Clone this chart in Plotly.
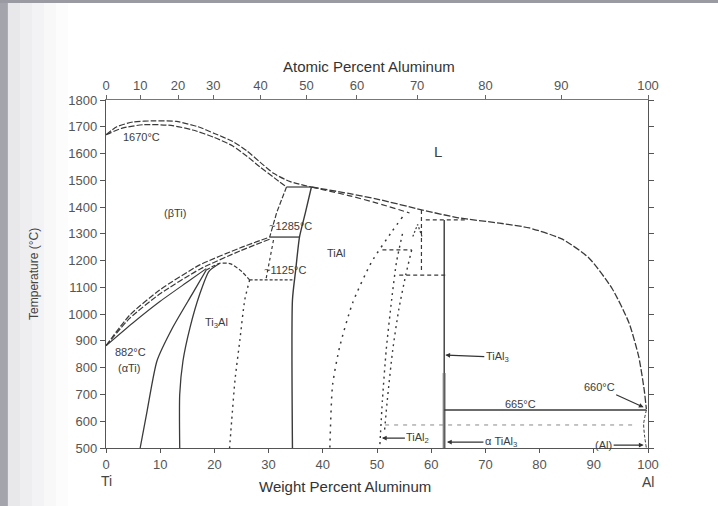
import plotly.graph_objects as go

# ---------------- data (weight % Al, temperature °C) ----------------
liq_left_wt = [0, 2, 5, 9, 13, 17, 20, 23.4, 26, 28.4, 31, 34, 37.9]
liq_left_T = [1670, 1700, 1718, 1722, 1720, 1700, 1675, 1645, 1610, 1568, 1525, 1495, 1475]
sol_beta_wt = [0, 3, 7, 12, 16, 20, 23.4, 26, 28.4, 31, 33.3]
sol_beta_T = [1670, 1695, 1708, 1705, 1688, 1660, 1628, 1590, 1550, 1510, 1475]
perit_wt = [33.3, 37.9]
perit_T = [1475, 1475]
liq_right_wt = [37.9, 45, 50, 58.4, 65, 72.6, 78.1, 84.2, 89.1, 93.4, 96.5, 98.3, 99.3, 99.7]
liq_right_T = [1475, 1450, 1430, 1389, 1360, 1340, 1322, 1280, 1210, 1095, 967, 840, 717, 645]
sol_gamma_wt = [37.9, 45, 50, 56]
sol_gamma_T = [1475, 1442, 1415, 1378]
beta_a_wt = [33.3, 31.5, 30.2]
beta_a_T = [1475, 1380, 1288]
beta_b_wt = [37.9, 36.8, 35.7, 35.0, 34.4, 34.4]
beta_b_T = [1475, 1380, 1288, 1165, 1053, 500]
line1285_wt = [30.2, 35.7]
line1285_T = [1288, 1288]
transus1_wt = [0, 4.4, 9.9, 17.3, 24.7, 30.2]
transus1_T = [882, 997, 1090, 1184, 1247, 1288]
transus2_wt = [0, 4.4, 9.9, 17.3, 24.7, 30.2]
transus2_T = [882, 985, 1075, 1168, 1236, 1280]
transus3_wt = [0, 5, 10, 15, 18.5]
transus3_T = [882, 968, 1048, 1120, 1170]
alpha_wt = [6.3, 7.6, 9.4, 12.3, 15.9, 18.5]
alpha_T = [500, 640, 825, 950, 1075, 1165]
alpha2_wt = [13.6, 13.6, 14.2, 15.5, 17.3, 19.0, 21.0]
alpha2_T = [500, 700, 825, 950, 1075, 1160, 1190]
dome_wt = [18.5, 21.0, 23.0, 25.0, 26.5]
dome_T = [1165, 1190, 1188, 1160, 1128]
a2g_wt = [26.5, 25.6, 24.7, 23.8, 23.2, 22.8]
a2g_T = [1128, 1053, 903, 754, 605, 500]
line1125_wt = [26.5, 34.4]
line1125_T = [1128, 1128]
ag_wt = [30.9, 30.2, 29.5]
ag_T = [1277, 1202, 1128]
g_left_wt = [54.7, 52.7, 49.0, 45.5, 43.1, 41.8, 41.3]
g_left_T = [1363, 1307, 1195, 1042, 877, 735, 500]
g_right_wt = [54.7, 53.6, 52.7, 51.7, 51.0, 50.5]
g_right_T = [1300, 1195, 1053, 866, 679, 500]
tial2_wt = [56.4, 55.3, 54.0, 52.9, 51.9, 51.4]
tial2_T = [1240, 1146, 1015, 866, 679, 567]
h1240_wt = [51.0, 56.4]
h1240_T = [1240, 1240]
v582_wt = [58.2, 58.2]
v582_T = [1389, 1165]
h1146_wt = [54.1, 62.6]
h1146_T = [1146, 1146]
h1352_wt = [59.0, 66.5]
h1352_T = [1352, 1352]
mark_wt = [56.6, 57.5, 58.3]
mark_T = [1290, 1335, 1290]
tial3_wt = [62.4, 62.4]
tial3_T = [1352, 500]
tial3_thick_T = [780, 500]
l665_wt = [62.4, 99.7]
l665_T = [642, 642]
l585_wt = [51.5, 97.5]
l585_T = [586, 586]
al_solvus_wt = [99.7, 99.2, 99.4, 99.7]
al_solvus_T = [642, 590, 540, 500]

x_ticks = [0, 10, 20, 30, 40, 50, 60, 70, 80, 90, 100]
y_ticks = [500, 600, 700, 800, 900, 1000, 1100, 1200, 1300, 1400, 1500, 1600, 1700, 1800]
top_tick_pos = [0, 6.3, 13.3, 19.8, 28.5, 37.0, 46.3, 57.4, 70.0, 84.0, 100]
top_tick_text = ["0", "10", "20", "30", "40", "50", "60", "70", "80", "90", "100"]

INK = "#3a3a3a"
FONT = "Liberation Sans, Arial, sans-serif"

fig = go.Figure()


def add(xs, ys, dash="solid", width=1.2, color=INK):
    fig.add_trace(go.Scatter(x=xs, y=ys, mode="lines", hoverinfo="skip",
                             line=dict(color=color, width=width, dash=dash,
                                       shape="spline", smoothing=0.6),
                             showlegend=False))


def addl(xs, ys, dash="solid", width=1.2, color=INK):
    fig.add_trace(go.Scatter(x=xs, y=ys, mode="lines", hoverinfo="skip",
                             line=dict(color=color, width=width, dash=dash),
                             showlegend=False))


add(liq_left_wt, liq_left_T, dash="6px,2px")
add(sol_beta_wt, sol_beta_T, dash="6px,2px")
addl(perit_wt, perit_T, width=1.2)
add(liq_right_wt, liq_right_T, dash="7px,2px", width=1.3)
add(sol_gamma_wt, sol_gamma_T, dash="6px,3px")
addl(beta_a_wt, beta_a_T, dash="5px,2px")
add(beta_b_wt, beta_b_T, dash="solid", width=1.4)
addl(line1285_wt, line1285_T, width=1.3)
add(transus1_wt, transus1_T, dash="6px,2px")
add(transus2_wt, transus2_T, dash="6px,2px")
add(transus3_wt, transus3_T, dash="solid", width=1.1)
add(alpha_wt, alpha_T, width=1.3)
add(alpha2_wt, alpha2_T, width=1.3)
add(dome_wt, dome_T, dash="4px,2px")
add(a2g_wt, a2g_T, dash="2px,4px", width=1.4)
addl(line1125_wt, line1125_T, dash="3px,2px")
add(ag_wt, ag_T, dash="3px,3px")
add(g_left_wt, g_left_T, dash="2px,5px", width=1.5)
add(g_right_wt, g_right_T, dash="2px,4px", width=1.4)
add(tial2_wt, tial2_T, dash="2px,4px", width=1.4)
addl(h1240_wt, h1240_T, dash="4px,3px")
addl(v582_wt, v582_T, dash="4px,3px")
addl(h1146_wt, h1146_T, dash="4px,3px")
addl(h1352_wt, h1352_T, dash="4px,3px")
addl(mark_wt, mark_T, dash="2px,2px")
addl(tial3_wt, tial3_T, width=1.4)
addl([tial3_wt[0], tial3_wt[0]], tial3_thick_T, width=3.5, color="rgba(110,110,110,0.55)")
addl(l665_wt, l665_T, width=1.3)
addl(l585_wt, l585_T, dash="4px,5px", width=1.0, color="#888")
add(al_solvus_wt, al_solvus_T, dash="3px,2px", width=1.0)

# top axis (atomic percent) anchor trace
fig.add_trace(go.Scatter(x=[0, 100], y=[500, 500], xaxis="x2", mode="lines",
                         line=dict(width=0), hoverinfo="skip", showlegend=False))

ann_font = dict(family=FONT, size=11, color="#3c3c3c")
labels = [
    ("1670°C", 6.5, 1660, 11),
    ("L", 61.3, 1606, 15),
    ("(βTi)", 12.7, 1378, 11),
    ("TiAl", 42.6, 1228, 11),
    ("~1285°C", 34.0, 1330, 11),
    ("~1125°C", 33.0, 1166, 11),
    ("Ti<sub>3</sub>Al", 20.3, 968, 11),
    ("882°C", 4.5, 857, 11),
    ("(αTi)", 4.3, 800, 11),
    ("665°C", 76.4, 666, 11),
]
for txt, xx, yy, sz in labels:
    fig.add_annotation(x=xx, y=yy, text=txt, showarrow=False,
                       xanchor="center", yanchor="middle",
                       font=dict(family=FONT, size=sz, color="#3c3c3c"))

arrows = [
    ("TiAl<sub>3</sub>", 62.6, 847, 52, 2),
    ("TiAl<sub>2</sub>", 50.9, 537, 36, 0),
    ("α TiAl<sub>3</sub>", 62.9, 522, 54, 0),
    ("(Al)", 99.2, 511, -40, 0),
    ("660°C", 99.2, 652, -44, -20),
]
for txt, xx, yy, axp, ayp in arrows:
    fig.add_annotation(x=xx, y=yy, text=txt, showarrow=True, ax=axp, ay=ayp,
                       arrowhead=2, arrowsize=0.8, arrowwidth=1.2,
                       arrowcolor="#333", font=ann_font)

# axis titles and end labels as paper annotations
title_font = dict(family=FONT, size=15, color="#333")
paper_labels = [
    ("Atomic Percent Aluminum", 0.485, 1.095, 0, title_font),
    ("Weight Percent Aluminum", 0.441, -0.112, 0, title_font),
    ("Temperature (°C)", -0.133, 0.5, -90, dict(family=FONT, size=12, color="#444")),
    ("Ti", 0.0, -0.094, 0, dict(family=FONT, size=14, color="#444")),
    ("Al", 1.0, -0.097, 0, dict(family=FONT, size=14, color="#444")),
]
for txt, xx, yy, ang, fnt in paper_labels:
    fig.add_annotation(xref="paper", yref="paper", x=xx, y=yy, text=txt,
                       textangle=ang, showarrow=False, font=fnt,
                       xanchor="center", yanchor="middle")

# scan border decoration (outside plot area)
shapes = [
    dict(type="rect", xref="paper", yref="paper", x0=-0.196, x1=-0.181, y0=-0.17, y1=1.29,
         fillcolor="#a4a4ac", line=dict(width=0), layer="below"),
    dict(type="rect", xref="paper", yref="paper", x0=-0.196, x1=1.14, y0=1.279, y1=1.29,
         fillcolor="#9a9aa2", line=dict(width=0), layer="below"),
]
for a, b, op in [(8, 20, 0.35), (20, 32, 0.26), (32, 44, 0.18), (44, 56, 0.11), (56, 68, 0.05)]:
    shapes.append(dict(type="rect", xref="paper", yref="paper",
                       x0=(a - 106) / 542, x1=(b - 106) / 542, y0=-0.17, y1=1.279,
                       fillcolor="rgba(190,190,198,%.2f)" % op, line=dict(width=0), layer="below"))
fig.update_layout(shapes=shapes)

tick_font = dict(family=FONT, size=13, color="#555")
fig.update_layout(
    width=718, height=506,
    margin=dict(l=106, r=70, t=100, b=58),
    paper_bgcolor="white", plot_bgcolor="white",
    showlegend=False,
    xaxis=dict(range=[0, 100], tickvals=x_ticks, ticks="outside", ticklen=4,
               tickcolor="#555", showline=True, linecolor="#555", linewidth=1.3,
               showgrid=False, zeroline=False, tickfont=tick_font),
    xaxis2=dict(range=[0, 100], overlaying="x", side="top", tickvals=top_tick_pos,
                ticktext=top_tick_text, ticks="outside", ticklen=4, tickcolor="#666",
                showline=True, linecolor="#777", linewidth=1.2, showgrid=False,
                zeroline=False, tickfont=tick_font),
    yaxis=dict(range=[500, 1800], tickvals=y_ticks, ticks="outside", ticklen=5,
               tickcolor="#555", showline=True, linecolor="#555", linewidth=1.4,
               mirror="ticks", showgrid=False, zeroline=False, tickfont=tick_font),
)

fig.write_html("out.html")
